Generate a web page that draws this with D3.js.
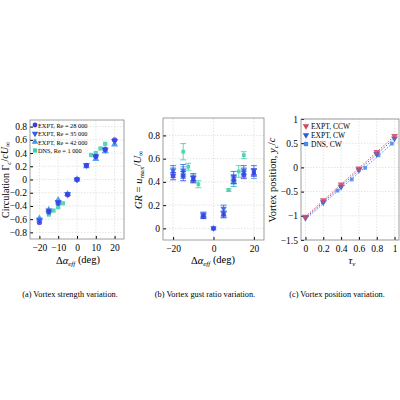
<!DOCTYPE html><html><head><meta charset="utf-8">
<script src="https://cdn.jsdelivr.net/npm/d3@7"></script>
<style>body{margin:0;background:#fff}svg{font-family:"Liberation Serif","DejaVu Serif",serif}</style></head><body>
<svg id="c" width="400" height="400"></svg>
<script>
const aoa=[-20,-15,-10,-5,0,5,10,15,20];
const circA28=[-0.65,-0.49,-0.36,-0.23,0,0.21,0.35,0.46,0.60];
const circA35=[-0.61,-0.47,-0.34,-0.22,0,0.22,0.35,0.45,0.58];
const circA42=[-0.59,-0.46,-0.31,-0.22,0,0.20,0.31,0.43,0.53];
const dnsAoa=[-15,-12.5,-10,-7.5,7.5,10,12.5,15];
const circDns=[-0.53,-0.47,-0.42,-0.36,0.37,0.40,0.47,0.54];
const gr28=[0.45,0.45,0.42,0.10,0,0.12,0.42,0.46,0.48];
const gr35=[0.50,0.50,0.44,0.12,0,0.17,0.45,0.50,0.50];
const gr42=[0.48,0.48,0.42,0.11,0,0.12,0.40,0.48,0.47];
const grErr=[0.04,0.05,0.03,0.02,0,0.03,0.04,0.04,0.04];
const grDns=[0.66,0.53,0.44,0.38,0.33,0.40,0.49,0.63];
const grDnsErr=[0.07,0.03,0.03,0.03,0.01,0.02,0.05,0.03];
const tau=[0,0.2,0.4,0.6,0.8,1];
const posCCW=[-1.02,-0.68,-0.35,-0.02,0.32,0.65];
const posCW=[-1.04,-0.72,-0.40,-0.05,0.28,0.60];
const tauDns=[0.36,0.52,0.67,0.82,0.97];
const posDns=[-0.48,-0.25,-0.01,0.25,0.49];
const C={c28:"#3a3ee6",c35:"#2f5fe8",c42:"#3d93e6",dns:"#3ccfa8",ccw:"#d24660",cw:"#2a5ad8",dcw:"#4a86ee"};
const svg=d3.select("#c");
const sym={circle:d3.symbolCircle,down:d3.symbolTriangle,up:d3.symbolTriangle,sq:d3.symbolSquare};
function pts(g,x,y,xs,ys,col,s,size,err){
  xs.forEach((v,i)=>{
    if(err&&err[i]>0){const e=err[i];
      g.append("line").attr("x1",x(v)).attr("x2",x(v)).attr("y1",y(ys[i]-e)).attr("y2",y(ys[i]+e)).attr("stroke",col).attr("stroke-width",0.8);
      [ys[i]-e,ys[i]+e].forEach(yy=>g.append("line").attr("x1",x(v)-3).attr("x2",x(v)+3).attr("y1",y(yy)).attr("y2",y(yy)).attr("stroke",col).attr("stroke-width",0.8));}
    g.append("path").attr("d",d3.symbol(sym[s],size)()).attr("fill",col).attr("opacity",0.85)
     .attr("transform",`translate(${x(v)},${y(ys[i])})${s==="down"?" rotate(180)":""}`);
  });
}
function frame(x,y,xt,yt,xf,yf){
  const g=svg.append("g");
  const [x0,x1]=x.range(),[y0,y1]=y.range();
  xt.forEach(t=>g.append("line").attr("x1",x(t)).attr("x2",x(t)).attr("y1",y0).attr("y2",y1).attr("stroke","#e4e4e4").attr("stroke-dasharray","1.5,1.5"));
  yt.forEach(t=>g.append("line").attr("y1",y(t)).attr("y2",y(t)).attr("x1",x0).attr("x2",x1).attr("stroke","#e4e4e4").attr("stroke-dasharray","1.5,1.5"));
  g.append("g").attr("transform",`translate(0,${y0})`).call(d3.axisBottom(x).tickValues(xt).tickFormat(xf).tickSize(-3).tickSizeOuter(0)).call(a=>{a.select(".domain").remove();a.selectAll("text").attr("font-size",9.5).attr("y",5).attr("dy","0.75em").attr("font-family","Liberation Serif")});
  g.append("g").attr("transform",`translate(${x0},0)`).call(d3.axisLeft(y).tickValues(yt).tickFormat(yf).tickSize(-3).tickSizeOuter(0)).call(a=>{a.select(".domain").remove();a.selectAll("text").attr("font-size",9.5).attr("x",-3).attr("font-family","Liberation Serif")});
  g.append("rect").attr("x",x0).attr("y",y1).attr("width",x1-x0).attr("height",y0-y1).attr("fill","none").attr("stroke","#888").attr("stroke-width",0.8);
  return svg.append("g");
}
function label(x,y,parts,rot,fs){
  const t=svg.append("text").attr("font-size",fs||11).attr("text-anchor","middle").attr("transform",`translate(${x},${y})${rot?" rotate(-90)":""}`);
  let sub=false;
  parts.forEach(([s,it,isSub])=>{const ts=t.append("tspan").text(s);if(it)ts.attr("font-style","italic");
    if(isSub&&!sub){ts.attr("font-size",7).attr("dy","0.3em");sub=true;}
    else if(isSub){ts.attr("font-size",7);}
    else if(sub){ts.attr("dy","-0.3em");sub=false;}});
}
// Panel a
const xa=d3.scaleLinear().domain([-25,25]).range([30,124]);
const ya=d3.scaleLinear().domain([-0.9,0.9]).range([239,120]);
const ga=frame(xa,ya,[-20,-10,0,10,20],[-0.8,-0.6,-0.4,-0.2,0,0.2,0.4,0.6,0.8],d3.format("d"),v=>v===0?"0":d3.format(".1f")(v));
pts(ga,xa,ya,dnsAoa,circDns,C.dns,"sq",18);
pts(ga,xa,ya,aoa,circA42,C.c42,"up",22);
pts(ga,xa,ya,aoa,circA35,C.c35,"down",22);
pts(ga,xa,ya,aoa,circA28,C.c28,"circle",22);
const leg=[["EXPT, Re = 28 000",C.c28,"circle"],["EXPT, Re = 35 000",C.c35,"down"],["EXPT, Re = 42 000",C.c42,"up"],["DNS, Re = 1 000",C.dns,"sq"]];
leg.forEach((l,i)=>{const yy=125+i*8.5;
  ga.append("path").attr("d",d3.symbol(sym[l[2]],18)()).attr("fill",l[1]).attr("transform",`translate(35,${yy})${l[2]==="down"?" rotate(180)":""}`);
  ga.append("text").attr("x",38).attr("y",yy+2.5).attr("font-size",6.3).text(l[0]);});
label(9,180,[["Circulation Γ"],["c",1,1],["/"],["cU",1],["∞",0,1]],true,10);
label(78,264,[["Δ"],["α",1],["eff",1,1],[" (deg)"]],false,10.5);
// Panel b
const xb=d3.scaleLinear().domain([-25,25]).range([163,264]);
const yb=d3.scaleLinear().domain([-0.1,0.95]).range([240,118]);
const gb=frame(xb,yb,[-20,0,20],[0,0.2,0.4,0.6,0.8],d3.format("d"),v=>v===0?"0":d3.format(".1f")(v));
pts(gb,xb,yb,dnsAoa,grDns,C.dns,"sq",14,grDnsErr);
pts(gb,xb,yb,aoa,gr42,C.c42,"up",18,grErr);
pts(gb,xb,yb,aoa,gr35,C.c35,"down",18,grErr);
pts(gb,xb,yb,aoa,gr28,C.c28,"sq",18,grErr.map(e=>e*0.8));
label(142,180,[["GR",1],[" = "],["u",1],["max",0,1],["/"],["U",1],["∞",0,1]],true,10.5);
label(213,264,[["Δ"],["α",1],["eff",1,1],[" (deg)"]],false,10.5);
// Panel c
const xc=d3.scaleLinear().domain([-0.05,1.05]).range([301,399]);
const yc=d3.scaleLinear().domain([-1.5,1]).range([240,119]);
const gc=frame(xc,yc,[0,0.2,0.4,0.6,0.8,1],[-1.5,-1,-0.5,0,0.5,1],v=>v===0||v===1?d3.format("d")(v):d3.format(".1f")(v),v=>d3.format("")(v));
function fit(xs,ys,col){const mx=d3.mean(xs),my=d3.mean(ys);
  const b=d3.sum(xs.map((v,i)=>(v-mx)*(ys[i]-my)))/d3.sum(xs.map(v=>(v-mx)**2)),a=my-b*mx;
  gc.append("line").attr("x1",xc(0)).attr("x2",xc(1)).attr("y1",yc(a)).attr("y2",yc(a+b)).attr("stroke",col).attr("stroke-width",0.9).attr("stroke-dasharray","1.5,1.5");}
fit(tau,posCCW,C.ccw);fit(tau,posCW,C.cw);fit(tauDns,posDns,C.dcw);
pts(gc,xc,yc,tauDns,posDns,C.dcw,"sq",14);
pts(gc,xc,yc,tau,posCW,C.cw,"down",20);
pts(gc,xc,yc,tau,posCCW,C.ccw,"down",20);
[["EXPT, CCW",C.ccw,"down"],["EXPT, CW",C.cw,"down"],["DNS, CW",C.dcw,"sq"]].forEach((l,i)=>{const yy=126+i*9;
  gc.append("path").attr("d",d3.symbol(sym[l[2]],18)()).attr("fill",l[1]).attr("transform",`translate(306,${yy})${l[2]==="down"?" rotate(180)":""}`);
  gc.append("text").attr("x",311).attr("y",yy+2.5).attr("font-size",7.5).text(l[0]);});
label(276,180,[["Vortex position, "],["y",1],["c",1,1],["/"],["c",1]],true,10.5);
label(352,264,[["τ",1],["v",1,1]],false,10.5);
// captions
[["(a) Vortex strength variation.",70],["(b) Vortex gust ratio variation.",205],["(c) Vortex position variation.",337]].forEach(c=>
 svg.append("text").attr("x",c[1]).attr("y",297).attr("text-anchor","middle").attr("font-size",8.3).text(c[0]));
</script></body></html>
